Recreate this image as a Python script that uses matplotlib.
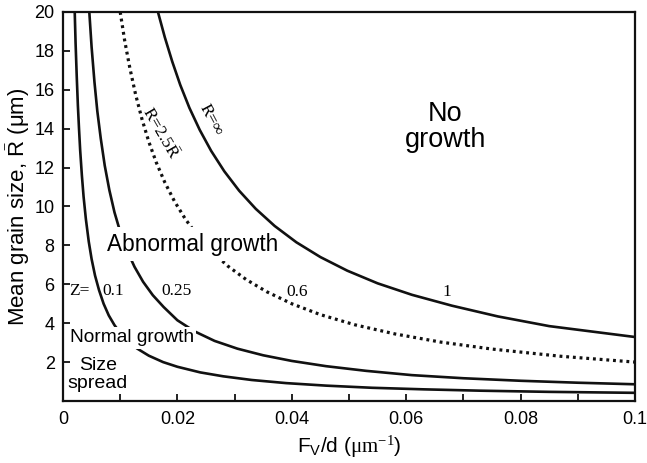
import matplotlib
matplotlib.use("Agg")
import matplotlib.pyplot as plt
from matplotlib.ticker import MultipleLocator

# ---- data ----
# curve R = infinity (Z = 1)
x_inf = [0.0166, 0.0178, 0.0191, 0.0205, 0.0221, 0.0239, 0.0259, 0.0282, 0.0308, 0.0337,
         0.0370, 0.0408, 0.0450, 0.0497, 0.0550, 0.061, 0.068, 0.076, 0.085, 0.1]
y_inf = [20, 18.7, 17.45, 16.25, 15.07, 13.94, 12.86, 11.81, 10.81, 9.88,
         9.0, 8.16, 7.4, 6.7, 6.05, 5.46, 4.9, 4.35, 3.85, 3.29]
# dotted curve R = 2.5 Rbar (Z = 0.6)
x_25 = [0.0100, 0.0108, 0.0117, 0.0127, 0.0138, 0.0150, 0.0163, 0.0178, 0.0195, 0.0214,
        0.0235, 0.026, 0.0288, 0.032, 0.0356, 0.040, 0.045, 0.051, 0.058, 0.066,
        0.075, 0.087, 0.1]
y_25 = [20, 18.5, 17.1, 15.75, 14.5, 13.33, 12.27, 11.24, 10.26, 9.35,
        8.51, 7.69, 6.94, 6.25, 5.62, 5.0, 4.44, 3.92, 3.45, 3.03,
        2.67, 2.3, 2.0]
# Z = 0.25
x_z025 = [0.0046, 0.0050, 0.0055, 0.0060, 0.0066, 0.0073, 0.0081, 0.0090, 0.0100, 0.0112,
          0.0125, 0.014, 0.0157, 0.0176, 0.020, 0.023, 0.0265, 0.0305, 0.035, 0.040,
          0.046, 0.053, 0.061, 0.070, 0.080, 0.090, 0.1]
y_z025 = [20, 18.2, 16.4, 14.9, 13.5, 12.1, 10.85, 9.7, 8.7, 7.73,
          6.9, 6.13, 5.44, 4.83, 4.15, 3.58, 3.09, 2.69, 2.35, 2.06,
          1.79, 1.55, 1.33, 1.17, 1.04, 0.94, 0.86]
# Z = 0.1
x_z01 = [0.00205, 0.0022, 0.0024, 0.0026, 0.0028, 0.0030, 0.0033, 0.0036, 0.0040, 0.0045,
         0.0050, 0.0056, 0.0063, 0.0071, 0.0080, 0.0090, 0.0100, 0.0115, 0.0130, 0.0150,
         0.0175, 0.020, 0.024, 0.028, 0.033, 0.039, 0.046, 0.054, 0.063, 0.073,
         0.085, 0.1]
y_z01 = [20, 18.4, 16.7, 15.2, 14.0, 12.9, 11.6, 10.5, 9.35, 8.2,
         7.3, 6.45, 5.7, 5.0, 4.4, 3.9, 3.5, 3.04, 2.69, 2.33,
         2.0, 1.76, 1.47, 1.27, 1.08, 0.92, 0.79, 0.68, 0.60, 0.53,
         0.47, 0.42]

x_ticks = [0, 0.02, 0.04, 0.06, 0.08, 0.1]
x_ticklabels = ["0", "0.02", "0.04", "0.06", "0.08", "0.1"]
y_ticks = [2, 4, 6, 8, 10, 12, 14, 16, 18, 20]

plt.rcParams["font.family"] = ["Liberation Sans", "DejaVu Sans"]
plt.rcParams["mathtext.fontset"] = "custom"
plt.rcParams["mathtext.rm"] = "Liberation Serif"
plt.rcParams["mathtext.sf"] = "Liberation Sans"
plt.rcParams["mathtext.it"] = "Liberation Serif:italic"

fig = plt.figure(figsize=(6.47, 4.63), dpi=100)
ax = fig.add_axes([63 / 647, 1 - 401 / 463, (635 - 63) / 647, (401 - 12) / 463])

lw = 1.9
ax.plot(x_inf, y_inf, color="#111111", lw=lw, zorder=2.4)
ax.plot(x_25, y_25, color="#111111", lw=2.3, ls=(0, (0.9, 1.2)), zorder=2)
ax.plot(x_z025, y_z025, color="#111111", lw=lw, zorder=2)
ax.plot(x_z01, y_z01, color="#111111", lw=lw, zorder=2)

ax.set_xlim(0, 0.1)
ax.set_ylim(0, 20)
ax.set_xticks(x_ticks)
ax.set_xticklabels(x_ticklabels)
ax.xaxis.set_minor_locator(MultipleLocator(0.01))
ax.set_yticks(y_ticks)
ax.tick_params(axis="both", which="both", direction="in", labelsize=13, color="#111111")
ax.tick_params(axis="both", which="major", length=5, width=1.3)
ax.tick_params(axis="x", which="minor", length=5, width=1.3)
ax.tick_params(axis="x", pad=7)
ax.tick_params(axis="y", pad=6)
for s in ax.spines.values():
    s.set_linewidth(1.6)
    s.set_color("#111111")

ax.set_ylabel(r"Mean grain size, $\bar{\mathsf{R}}$ ($\mathsf{\mu}$m)", fontsize=16)
ax.yaxis.set_label_coords(-0.055, 0.5)
ax.set_xlabel(r"F$_\mathsf{V}$/d ($\mathrm{\mu m}^{\mathrm{-1}}$)", fontsize=15)
ax.xaxis.set_label_coords(0.5, -0.085)

ax.text(0.0668, 14.1, "No\ngrowth", fontsize=19.5, ha="center", va="center", linespacing=1.0)
ax.text(0.0077, 8.07, "Abnormal growth", fontsize=16.3, ha="left", va="center",
        bbox=dict(boxstyle="square,pad=0.25", fc="white", ec="none"), zorder=2.3)
ax.text(0.0012, 3.24, "Normal growth", fontsize=13.8, ha="left", va="center",
        bbox=dict(boxstyle="square,pad=0.12", fc="white", ec="none"), zorder=2.3)
ax.text(0.0061, 1.35, "Size\nspread", fontsize=14, ha="center", va="center",
        linespacing=1.05)

serif = "Liberation Serif"
fs = 12.5
ax.text(0.0010, 5.66, "Z=", fontsize=fs, family=serif, ha="left", va="center")
ax.text(0.0087, 5.66, "0.1", fontsize=fs, family=serif, ha="center", va="center")
ax.text(0.0198, 5.66, "0.25", fontsize=fs, family=serif, ha="center", va="center")
ax.text(0.041, 5.6, "0.6", fontsize=fs, family=serif, ha="center", va="center")
ax.text(0.0671, 5.6, "1", fontsize=fs, family=serif, ha="center", va="center")
ax.text(0.0170, 13.8, r"R=2.5$\bar{\mathrm{R}}$", fontsize=fs, family=serif, ha="center",
        va="center", rotation=-60)
ax.text(0.0259, 14.45, "R=\u221e", fontsize=fs, family=serif, ha="center",
        va="center", rotation=-62)

fig.savefig("out.png", dpi=100)
